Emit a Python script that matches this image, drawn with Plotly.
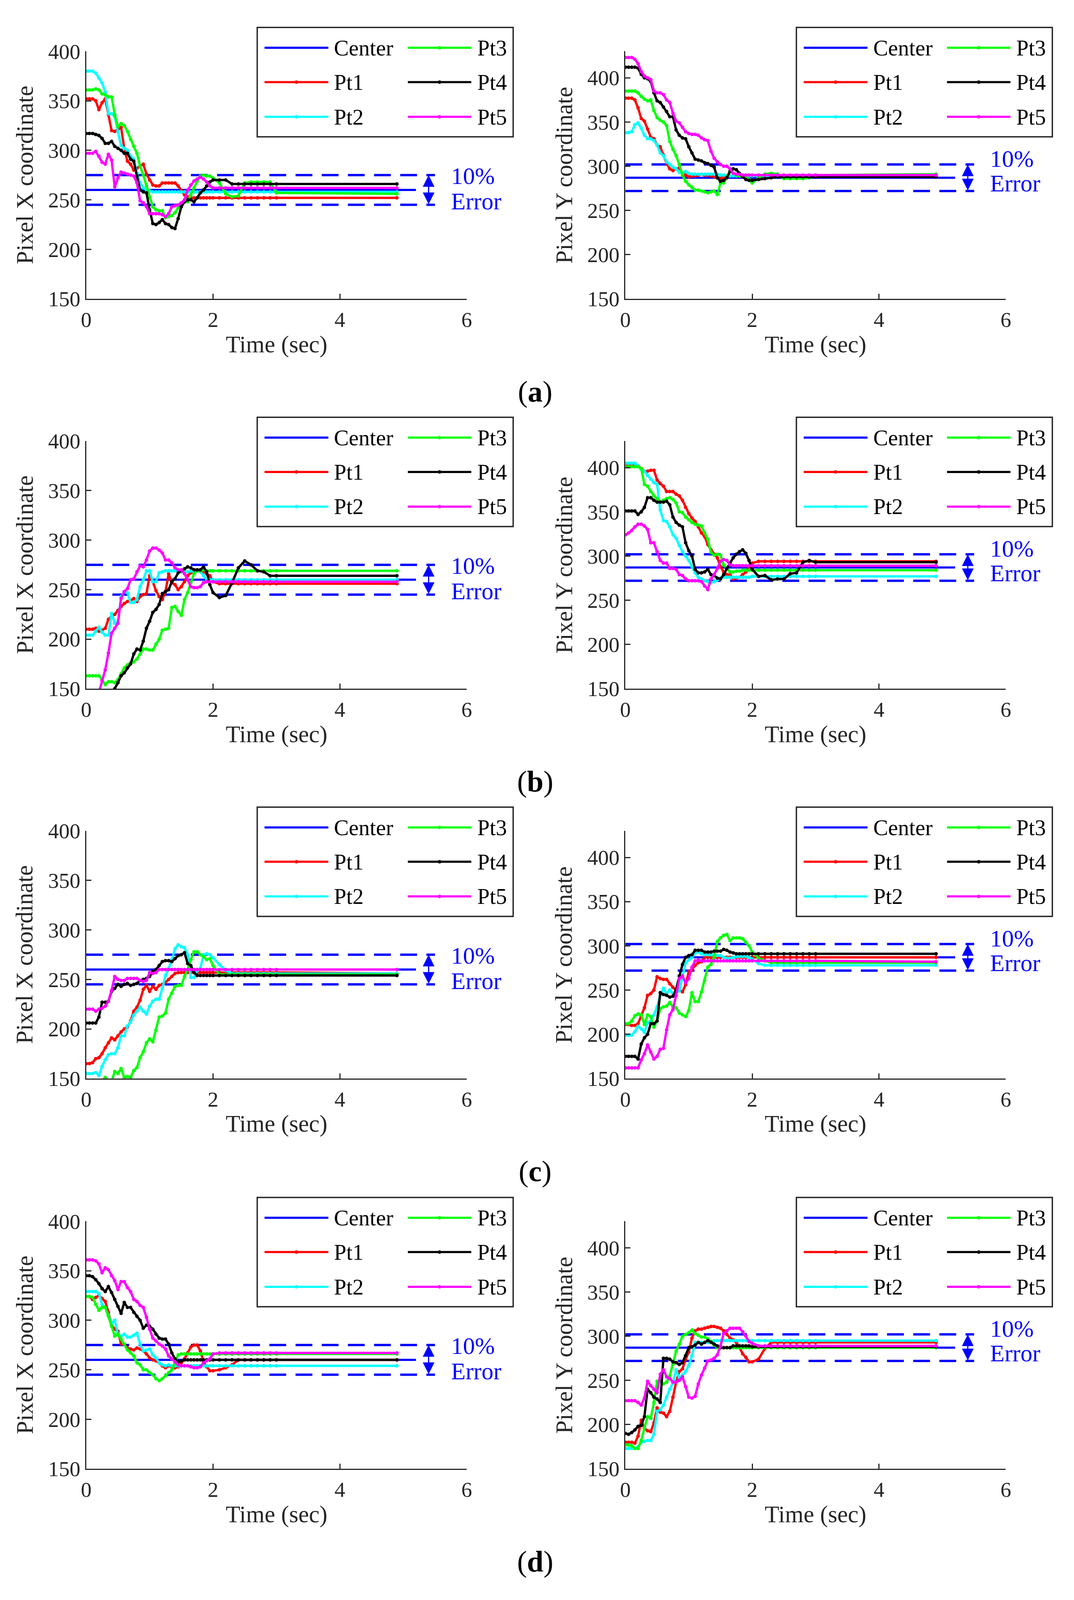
import plotly.graph_objects as go

# sample times (sec); the tail after 3 s is flat in every trace
T = [0, 0.05, 0.1, 0.15, 0.2, 0.25, 0.3, 0.35, 0.4, 0.45, 0.5, 0.55, 0.6, 0.65, 0.7, 0.75, 0.8, 0.85, 0.9, 0.95, 1.0,
     1.05, 1.1, 1.15, 1.2, 1.25, 1.3, 1.35, 1.4, 1.45, 1.5, 1.55, 1.6, 1.65, 1.7, 1.75, 1.8, 1.85, 1.9, 1.95, 2.0,
     2.1, 2.2, 2.3, 2.4, 2.5, 2.6, 2.7, 2.8, 2.9, 3.0, 4.9]

# reference lines
CENTER_X = 260
BAND_X = [245, 275]
CENTER_Y = 287
BAND_Y = [272, 302]
CENTER_T = [0, 5.2]
BAND_T = [0, 5.5]
ARROW_T = 5.4

#######################################################
# (a)
#######################################################
ax_pt1 = [352, 352, 352, 350, 341, 348, 352, 336, 320, 319, 321, 323, 302, 289, 286, 280, 282, 284, 286, 276, 270,
          265, 264, 264, 267, 267, 267, 267, 267, 264, 259, 255, 253, 252, 252, 252, 252, 252, 252, 252, 252,
          252, 252, 252, 252, 252, 252, 252, 252, 252, 252, 252]
ax_pt2 = [380, 380, 380, 378, 373, 368, 359, 337, 337, 334, 319, 305, 302, 300, 294, 291, 277, 267, 262, 260, 259,
          258, 258, 258, 258, 258, 258, 258, 258, 258, 258, 258, 258, 258, 258, 258, 258, 258, 258, 258, 258,
          258, 258, 258, 258, 258, 258, 258, 258, 258, 258, 258]
ax_pt3 = [361, 361, 361, 362, 361, 357, 356, 354, 354, 336, 324, 327, 325, 319, 311, 304, 297, 284, 275, 264, 252,
          243, 240, 239, 239, 232, 233, 234, 237, 242, 247, 248, 248, 255, 262, 269, 274, 275, 274, 274, 272,
          267, 256, 253, 254, 267, 268, 268, 268, 268, 257, 256]
ax_pt4 = [317, 317, 317, 316, 315, 312, 307, 307, 309, 304, 302, 300, 297, 297, 291, 289, 274, 260, 258, 257, 240,
          226, 225, 227, 230, 226, 225, 222, 221, 231, 243, 248, 250, 250, 248, 252, 257, 260, 264, 268, 270,
          270, 270, 266, 266, 266, 266, 266, 266, 266, 266, 266]
ax_pt5 = [297, 297, 297, 299, 294, 288, 286, 296, 290, 263, 272, 278, 277, 276, 275, 274, 267, 249, 247, 243, 236,
          236, 236, 236, 235, 233, 236, 243, 244, 245, 247, 250, 260, 265, 269, 271, 273, 271, 268, 264, 262,
          262, 262, 262, 262, 262, 262, 262, 262, 262, 262, 262]

ay_pt1 = [377, 377, 377, 375, 366, 354, 351, 342, 333, 331, 324, 322, 313, 303, 297, 295, 297, 298, 292, 290, 288,
          289, 289, 290, 291, 290, 290, 289, 288, 287, 286, 287, 288, 289, 289, 289, 289, 289, 289, 289, 289,
          289, 289, 289, 289, 289, 289, 289, 289, 289, 289, 289]
ay_pt2 = [338, 338, 339, 347, 349, 343, 335, 331, 331, 329, 324, 315, 312, 305, 302, 299, 297, 293, 292, 294, 292,
          291, 291, 291, 291, 291, 291, 291, 291, 291, 290, 290, 289, 289, 289, 289, 289, 289, 289, 289, 289,
          289, 289, 289, 289, 289, 289, 289, 289, 289, 289, 289]
ay_pt3 = [385, 385, 385, 385, 383, 379, 376, 374, 375, 363, 355, 352, 350, 346, 328, 319, 312, 302, 290, 283, 279,
          276, 273, 273, 272, 271, 270, 271, 272, 268, 281, 281, 288, 295, 292, 290, 289, 288, 287, 285, 281,
          287, 291, 292, 291, 286, 286, 286, 286, 287, 290, 291]
ay_pt4 = [412, 412, 412, 412, 411, 404, 400, 399, 396, 383, 374, 372, 367, 362, 356, 356, 341, 335, 332, 331, 322,
          315, 308, 307, 306, 304, 303, 301, 299, 287, 283, 284, 287, 294, 297, 296, 292, 288, 285, 284, 284,
          285, 286, 287, 288, 288, 288, 288, 288, 288, 288, 288]
ay_pt5 = [423, 423, 423, 421, 416, 407, 402, 400, 398, 385, 383, 383, 381, 375, 372, 360, 351, 349, 344, 339, 337,
          336, 336, 335, 332, 330, 329, 317, 309, 305, 302, 300, 300, 297, 292, 291, 291, 290, 290, 290, 290,
          290, 290, 290, 290, 290, 290, 290, 290, 290, 290, 290]

#######################################################
# (b)
#######################################################
bx_pt1 = [210, 210, 210, 211, 208, 209, 211, 220, 223, 225, 229, 233, 236, 238, 239, 241, 238, 243, 245, 246, 264,
          258, 249, 243, 240, 248, 266, 257, 255, 250, 253, 258, 264, 267, 269, 269, 269, 268, 266, 264, 258,
          256, 256, 256, 256, 256, 256, 256, 256, 256, 256, 256]
bx_pt2 = [204, 204, 204, 208, 212, 207, 204, 204, 226, 216, 217, 243, 248, 247, 237, 237, 240, 253, 260, 269, 269,
          258, 258, 267, 268, 269, 269, 269, 269, 269, 268, 268, 268, 269, 268, 269, 268, 264, 260, 260, 260,
          260, 260, 260, 260, 260, 260, 260, 260, 260, 260, 260]
bx_pt3 = [163, 163, 163, 163, 163, 159, 154, 157, 157, 156, 159, 165, 171, 174, 176, 177, 180, 185, 190, 190, 189,
          189, 195, 200, 209, 210, 211, 232, 233, 228, 224, 240, 247, 257, 266, 269, 269, 270, 269, 269, 269,
          269, 269, 269, 269, 269, 269, 269, 269, 269, 269, 269]
bx_pt4 = [140, 140, 141, 141, 142, 142, 143, 144, 147, 150, 156, 163, 166, 171, 175, 185, 190, 189, 198, 211, 218,
          227, 230, 235, 246, 248, 250, 258, 261, 267, 269, 271, 273, 272, 270, 270, 270, 273, 268, 255, 247,
          242, 244, 257, 272, 279, 275, 269, 268, 264, 264, 264]
bx_pt5 = [130, 133, 136, 140, 146, 158, 169, 186, 206, 211, 216, 241, 248, 251, 260, 261, 268, 274, 273, 280, 289,
          292, 292, 290, 287, 280, 280, 277, 272, 270, 270, 266, 260, 253, 252, 252, 253, 257, 258, 258, 258,
          258, 258, 258, 258, 258, 258, 258, 258, 258, 258, 258]

by_pt1 = [402, 402, 402, 402, 402, 399, 396, 396, 397, 397, 386, 382, 379, 373, 373, 373, 370, 368, 363, 355, 348,
          343, 339, 333, 326, 322, 313, 307, 302, 298, 288, 282, 279, 279, 274, 275, 276, 279, 282, 288, 292,
          294, 294, 294, 294, 294, 294, 294, 294, 294, 294, 294]
by_pt2 = [405, 405, 405, 405, 402, 398, 396, 391, 387, 383, 381, 352, 340, 339, 333, 324, 320, 312, 305, 300, 295,
          288, 281, 276, 274, 272, 271, 270, 271, 273, 275, 276, 276, 276, 276, 276, 276, 276, 276, 276, 277,
          277, 277, 277, 277, 277, 277, 277, 277, 277, 277, 277]
by_pt3 = [401, 401, 401, 401, 401, 399, 381, 379, 373, 368, 365, 361, 363, 365, 366, 364, 360, 350, 349, 344, 341,
          338, 336, 335, 334, 326, 319, 304, 301, 302, 301, 290, 286, 282, 282, 283, 283, 284, 284, 284, 284,
          284, 284, 284, 284, 284, 284, 284, 284, 284, 284, 284]
by_pt4 = [351, 351, 351, 351, 347, 350, 355, 366, 366, 363, 361, 361, 361, 362, 358, 344, 338, 335, 333, 315, 306,
          300, 285, 281, 281, 282, 285, 279, 278, 275, 274, 279, 286, 292, 298, 302, 305, 307, 303, 295, 285,
          277, 278, 273, 274, 274, 280, 281, 293, 295, 293, 293]
by_pt5 = [324, 326, 329, 333, 336, 336, 334, 330, 315, 315, 305, 295, 292, 292, 286, 286, 285, 279, 278, 274, 272,
          272, 272, 272, 271, 266, 262, 274, 279, 286, 294, 296, 295, 290, 289, 289, 289, 289, 289, 289, 289,
          289, 289, 289, 289, 289, 289, 289, 289, 289, 289, 289]

#######################################################
# (c)
#######################################################
cx_pt1 = [165, 165, 166, 170, 171, 175, 181, 186, 191, 189, 193, 197, 200, 202, 208, 218, 222, 229, 240, 244, 238,
          243, 240, 244, 245, 247, 250, 253, 256, 257, 257, 257, 257, 257, 257, 257, 257, 257, 257, 257, 257,
          257, 257, 257, 257, 257, 257, 257, 257, 257, 257, 256]
cx_pt2 = [155, 155, 155, 156, 153, 162, 169, 174, 175, 175, 181, 193, 193, 203, 207, 214, 218, 222, 218, 215, 223,
          228, 230, 230, 241, 254, 261, 270, 281, 285, 283, 282, 275, 252, 252, 259, 261, 275, 276, 275, 272,
          265, 259, 256, 256, 256, 256, 256, 256, 256, 256, 256]
cx_pt3 = [142, 142, 143, 144, 145, 148, 151, 148, 147, 157, 155, 160, 151, 152, 151, 158, 161, 171, 177, 186, 190,
          187, 199, 212, 213, 216, 230, 236, 243, 244, 244, 253, 260, 270, 278, 278, 275, 273, 270, 271, 264,
          255, 255, 255, 255, 255, 255, 255, 255, 255, 255, 255]
cx_pt4 = [206, 206, 206, 206, 212, 227, 227, 228, 238, 241, 245, 243, 245, 246, 244, 245, 246, 249, 250, 251, 253,
          258, 260, 264, 268, 269, 269, 268, 271, 274, 275, 277, 266, 264, 257, 254, 254, 254, 254, 254, 254,
          254, 254, 254, 254, 254, 254, 254, 254, 254, 254, 254]
cx_pt5 = [220, 220, 220, 218, 220, 221, 223, 228, 239, 253, 250, 249, 249, 251, 251, 251, 251, 249, 248, 249, 257,
          256, 257, 260, 260, 260, 260, 260, 260, 260, 260, 260, 260, 260, 260, 260, 260, 260, 260, 260, 260,
          260, 260, 260, 260, 260, 260, 260, 260, 260, 260, 260]

cy_pt1 = [211, 211, 210, 210, 212, 221, 230, 244, 246, 250, 265, 263, 262, 262, 257, 253, 250, 250, 248, 256, 271,
          273, 278, 281, 282, 287, 287, 287, 287, 287, 287, 287, 287, 287, 287, 287, 287, 287, 287, 287, 287,
          287, 287, 287, 287, 287, 287, 287, 287, 287, 287, 287]
cy_pt2 = [199, 199, 199, 203, 209, 206, 202, 213, 215, 222, 231, 244, 252, 246, 250, 246, 247, 249, 264, 281, 284,
          287, 292, 293, 291, 290, 290, 290, 290, 289, 289, 287, 286, 286, 287, 288, 288, 288, 288, 287, 285,
          280, 278, 278, 278, 278, 278, 278, 278, 278, 278, 278]
cy_pt3 = [212, 212, 215, 221, 223, 222, 211, 222, 220, 208, 215, 229, 231, 232, 236, 231, 230, 224, 222, 220, 227,
          247, 237, 237, 248, 261, 276, 279, 288, 305, 309, 312, 313, 306, 309, 309, 309, 308, 304, 300, 293,
          286, 283, 281, 281, 281, 281, 281, 281, 281, 281, 281]
cy_pt4 = [175, 175, 175, 175, 172, 189, 196, 200, 212, 212, 215, 247, 245, 244, 242, 243, 251, 266, 279, 287, 289,
          290, 295, 295, 295, 293, 293, 293, 294, 294, 294, 296, 295, 293, 292, 291, 291, 291, 291, 291, 291,
          291, 291, 291, 291, 291, 291, 291, 291, 291, 291, 291]
cy_pt5 = [162, 162, 162, 162, 162, 171, 178, 188, 180, 172, 175, 183, 184, 205, 222, 228, 244, 263, 266, 258, 263,
          276, 283, 284, 283, 283, 283, 283, 283, 283, 283, 283, 283, 283, 283, 283, 283, 283, 283, 283, 283,
          283, 283, 283, 283, 283, 283, 283, 283, 283, 283, 282]

#######################################################
# (d)
#######################################################
dx_pt1 = [324, 324, 321, 323, 325, 322, 319, 308, 295, 291, 289, 276, 276, 272, 271, 270, 272, 271, 269, 266, 262,
          260, 259, 257, 254, 252, 254, 253, 252, 253, 257, 261, 267, 273, 275, 275, 269, 258, 253, 249, 249,
          250, 252, 255, 260, 260, 260, 260, 260, 260, 260, 260]
dx_pt2 = [329, 329, 329, 329, 327, 316, 313, 305, 297, 300, 286, 284, 286, 283, 283, 285, 287, 276, 269, 270, 271,
          265, 262, 257, 255, 254, 255, 254, 254, 254, 254, 254, 254, 254, 254, 254, 254, 254, 254, 254, 254,
          254, 254, 254, 254, 254, 254, 254, 254, 254, 254, 254]
dx_pt3 = [324, 324, 323, 316, 310, 313, 313, 304, 294, 284, 286, 281, 276, 270, 267, 264, 257, 255, 250, 250, 247,
          245, 241, 239, 241, 244, 247, 250, 257, 265, 266, 266, 266, 266, 266, 266, 266, 266, 266, 266, 266,
          266, 266, 266, 266, 266, 266, 266, 266, 266, 266, 266]
dx_pt4 = [345, 345, 344, 341, 337, 332, 329, 334, 328, 321, 314, 307, 318, 313, 313, 308, 304, 300, 292, 295, 294,
          291, 286, 282, 281, 281, 276, 267, 261, 258, 259, 260, 260, 260, 260, 260, 260, 260, 260, 260, 260,
          260, 260, 260, 260, 260, 260, 260, 260, 260, 260, 260]
dx_pt5 = [361, 361, 361, 360, 357, 348, 353, 351, 345, 340, 331, 339, 339, 333, 329, 321, 319, 315, 313, 303, 291,
          282, 279, 276, 274, 271, 264, 261, 258, 255, 254, 254, 254, 253, 252, 252, 253, 257, 259, 261, 266,
          267, 267, 267, 267, 267, 267, 267, 267, 267, 267, 267]

dy_pt1 = [180, 180, 180, 179, 187, 205, 196, 193, 192, 202, 219, 214, 213, 209, 215, 231, 248, 260, 263, 274, 282,
          298, 306, 308, 308, 309, 310, 311, 311, 310, 309, 306, 302, 298, 296, 293, 287, 280, 276, 271, 271,
          274, 286, 293, 293, 293, 293, 293, 293, 293, 293, 293]
dy_pt2 = [173, 173, 173, 173, 175, 180, 181, 182, 182, 189, 215, 217, 222, 231, 240, 247, 262, 252, 256, 260, 267,
          278, 293, 293, 293, 293, 293, 293, 295, 295, 295, 295, 295, 295, 295, 295, 295, 295, 295, 295, 295,
          295, 295, 295, 295, 295, 295, 295, 295, 295, 295, 295]
dy_pt3 = [177, 177, 176, 173, 173, 182, 196, 209, 207, 225, 249, 249, 246, 248, 255, 268, 283, 291, 300, 302, 304,
          307, 303, 301, 299, 299, 297, 294, 290, 287, 287, 287, 287, 287, 287, 287, 287, 287, 287, 287, 287,
          287, 287, 287, 287, 287, 287, 287, 287, 287, 287, 287]
dy_pt4 = [190, 189, 191, 194, 198, 199, 209, 240, 236, 231, 229, 225, 275, 275, 274, 271, 270, 268, 270, 278, 287,
          288, 290, 293, 291, 293, 295, 293, 291, 289, 287, 287, 287, 287, 289, 289, 289, 289, 289, 289, 288,
          288, 288, 288, 288, 288, 288, 288, 288, 288, 288, 288]
dy_pt5 = [227, 227, 227, 227, 225, 222, 230, 249, 244, 240, 236, 257, 262, 254, 252, 248, 248, 250, 254, 243, 231,
          230, 232, 246, 256, 264, 272, 273, 275, 279, 289, 303, 306, 309, 309, 309, 309, 305, 300, 294, 292,
          289, 289, 289, 289, 289, 289, 289, 289, 289, 289, 289]

PANELS = [
    ('a', [ax_pt1, ax_pt2, ax_pt3, ax_pt4, ax_pt5], [ay_pt1, ay_pt2, ay_pt3, ay_pt4, ay_pt5]),
    ('b', [bx_pt1, bx_pt2, bx_pt3, bx_pt4, bx_pt5], [by_pt1, by_pt2, by_pt3, by_pt4, by_pt5]),
    ('c', [cx_pt1, cx_pt2, cx_pt3, cx_pt4, cx_pt5], [cy_pt1, cy_pt2, cy_pt3, cy_pt4, cy_pt5]),
    ('d', [dx_pt1, dx_pt2, dx_pt3, dx_pt4, dx_pt5], [dy_pt1, dy_pt2, dy_pt3, dy_pt4, dy_pt5]),
]
for tag, xs, ys in PANELS:
    for k, s in enumerate(xs + ys):
        assert len(s) == len(T), (tag, k, len(s))

NAMES = ['Pt1', 'Pt2', 'Pt3', 'Pt4', 'Pt5']
COLORS = ['#ff0000', '#00ffff', '#00ff00', '#000000', '#ff00ff']
BLUE = '#0000ff'
DARK = '#262626'
FONT = 'Liberation Serif'

#######################################################
# Page geometry, laid out on a 2750 x 4476 frame and
# expressed as paper fractions so the figure fills the window
#######################################################
W, H = 2750, 4476
AX_X = [(202, 1192), (1605, 2595)]       # plot area left/right per column
AX_TOPS = [104, 1216.5, 2329, 3443]      # plot area top per row
AX_H = 706.5
Y_TOP = [400, 430]                       # X plots / Y plots
YLABELS = ['Pixel X coordinate', 'Pixel Y coordinate']
TXT_Y = [(274, 248.5), (308.5, 280.5)]   # "10%" / "Error" heights
TXT_T = 5.74

LEG_LEFT = [647, 2050]
LEG_W, LEG_TOP, LEG_H = 666, -68, 312
LEG_ROWS = [-10, 88, 187]
LEG_COLS = [(19, 185, 198), (392, 557, 570)]


def fx(px):
    return px / W


def fy(px):
    return 1 - px / H


fig = go.Figure()
layout = dict(autosize=True, margin=dict(l=0, r=0, t=0, b=0),
              paper_bgcolor='white', plot_bgcolor='white', showlegend=False,
              font=dict(family=FONT, color=DARK))
annotations = []
shapes = []

for p, (tag, xs, ys) in enumerate(PANELS):
    top = AX_TOPS[p]
    for side in (0, 1):
        i = 2 * p + side + 1
        xa = 'x' if i == 1 else f'x{i}'
        ya = 'y' if i == 1 else f'y{i}'
        center = CENTER_X if side == 0 else CENTER_Y
        band = BAND_X if side == 0 else BAND_Y
        series = xs if side == 0 else ys

        fig.add_trace(go.Scatter(x=CENTER_T, y=[center, center], mode='lines',
                                 line=dict(color=BLUE, width=5.5), xaxis=xa, yaxis=ya))
        for b in band:
            fig.add_trace(go.Scatter(x=BAND_T, y=[b, b], mode='lines',
                                     line=dict(color=BLUE, width=6, dash='43px,24px'),
                                     xaxis=xa, yaxis=ya))
        for name, color, vals in zip(NAMES, COLORS, series):
            fig.add_trace(go.Scatter(x=T, y=vals, mode='lines+markers', name=name,
                                     line=dict(color=color, width=6),
                                     marker=dict(color=color, size=9),
                                     xaxis=xa, yaxis=ya))

        x0, x1 = AX_X[side]
        layout['xaxis' if i == 1 else f'xaxis{i}'] = dict(
            domain=[fx(x0), fx(x1)], anchor=ya, range=[0, 6], tickvals=[0, 2, 4, 6],
            showgrid=False, zeroline=False, showline=True, linecolor=DARK, linewidth=3,
            ticks='inside', ticklen=13, tickwidth=3, tickcolor=DARK,
            tickfont=dict(family=FONT, size=55, color=DARK), ticklabelstandoff=3)
        layout['yaxis' if i == 1 else f'yaxis{i}'] = dict(
            domain=[fy(top + AX_H), fy(top)], anchor=xa, range=[150, Y_TOP[side]],
            tickvals=[150, 200, 250, 300, 350, 400],
            showgrid=False, zeroline=False, showline=True, linecolor=DARK, linewidth=3,
            ticks='inside', ticklen=13, tickwidth=3, tickcolor=DARK,
            tickfont=dict(family=FONT, size=55, color=DARK), ticklabelstandoff=1)

        # 10% error arrow and label
        annotations.append(dict(x=ARROW_T, y=band[1], ax=ARROW_T, ay=band[0], xref=xa, yref=ya,
                                axref=xa, ayref=ya, text='', showarrow=True, arrowside='end+start',
                                arrowhead=2, startarrowhead=2, arrowsize=2, startarrowsize=2,
                                arrowwidth=3, arrowcolor=BLUE, standoff=0, startstandoff=0))
        for txt, yv in zip(['10%', 'Error'], TXT_Y[side]):
            annotations.append(dict(x=TXT_T, y=yv, xref=xa, yref=ya, text=txt, showarrow=False,
                                    xanchor='left', yanchor='middle',
                                    font=dict(family=FONT, size=61, color=BLUE)))

        # axis titles
        annotations.append(dict(x=fx(x0 - 160), y=fy(top + AX_H / 2), xref='paper', yref='paper',
                                text=YLABELS[side], textangle=-90, showarrow=False,
                                xanchor='center', yanchor='middle',
                                font=dict(family=FONT, size=61, color=DARK)))
        annotations.append(dict(x=fx((x0 + x1) / 2), y=fy(top + AX_H + 130), xref='paper', yref='paper',
                                text='Time (sec)', showarrow=False, xanchor='center', yanchor='middle',
                                font=dict(family=FONT, size=61, color=DARK)))

        # legend box (two columns: Center/Pt1/Pt2 and Pt3/Pt4/Pt5)
        lx = LEG_LEFT[side]
        shapes.append(dict(type='rect', xref='paper', yref='paper',
                           x0=fx(lx), x1=fx(lx + LEG_W), y0=fy(top + LEG_TOP + LEG_H), y1=fy(top + LEG_TOP),
                           line=dict(color=DARK, width=3.5), fillcolor='white', layer='above'))
        entries = [('Center', BLUE, False)] + [(n, c, True) for n, c in zip(NAMES, COLORS)]
        for k, (name, color, dot) in enumerate(entries):
            c0, c1, ct = LEG_COLS[k // 3]
            ry = top + LEG_ROWS[k % 3]
            shapes.append(dict(type='line', xref='paper', yref='paper',
                               x0=fx(lx + c0), x1=fx(lx + c1), y0=fy(ry), y1=fy(ry),
                               line=dict(color=color, width=5.5), layer='above'))
            if dot:
                cx = lx + (c0 + c1) / 2
                shapes.append(dict(type='circle', xref='paper', yref='paper',
                                   x0=fx(cx - 4.5), x1=fx(cx + 4.5), y0=fy(ry + 4.5), y1=fy(ry - 4.5),
                                   line=dict(color=color, width=1), fillcolor=color, layer='above'))
            annotations.append(dict(x=fx(lx + ct), y=fy(ry), xref='paper', yref='paper', text=name,
                                    showarrow=False, xanchor='left', yanchor='middle',
                                    font=dict(family=FONT, size=57, color='black')))

    # panel caption
    annotations.append(dict(x=fx(1370), y=fy(top + AX_H + 265), xref='paper', yref='paper',
                            text=f'(<b>{tag}</b>)', showarrow=False, xanchor='center', yanchor='middle',
                            font=dict(family=FONT, size=76, color='black')))

layout['annotations'] = annotations
layout['shapes'] = shapes
fig.update_layout(**layout)

fig.write_html("out.html", default_width='100%', default_height='calc(100vh - 20px)',
               config={'displayModeBar': False})
